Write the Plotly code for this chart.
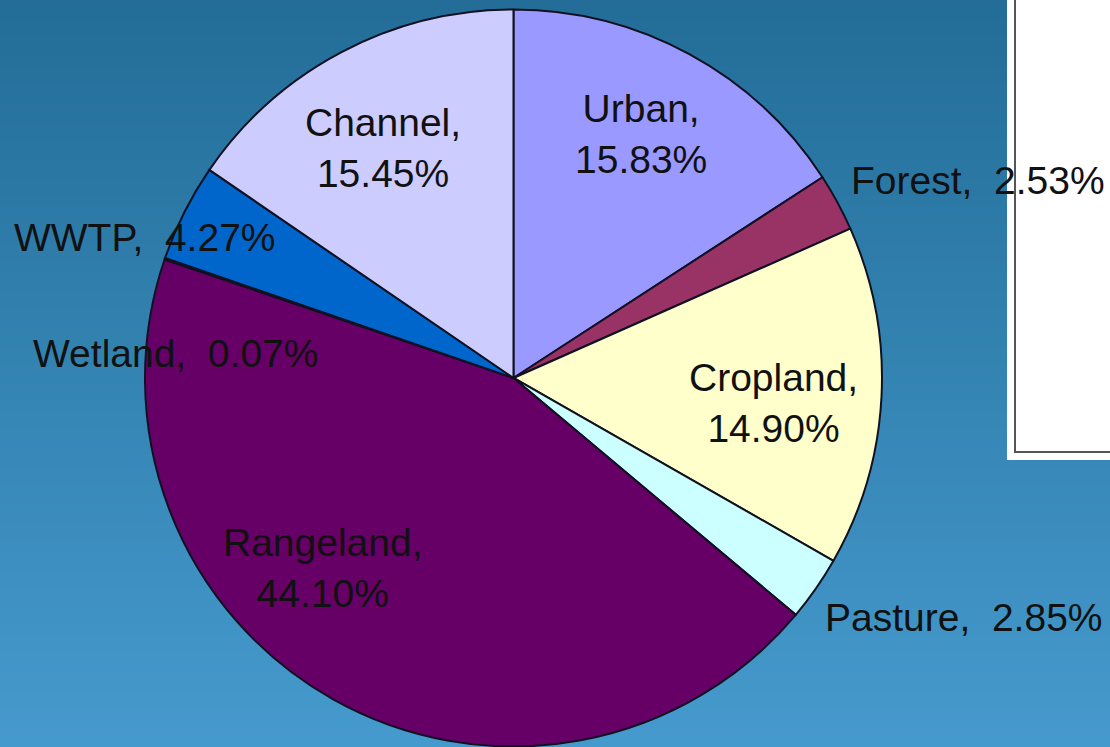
import plotly.graph_objects as go

# land use shares, clockwise from 12 o'clock
categorias = ["Urban", "Forest", "Cropland", "Pasture", "Rangeland", "Wetland", "WWTP", "Channel"]
porcentajes = [15.83, 2.53, 14.90, 2.85, 44.10, 0.07, 4.27, 15.45]
colores = ["#9999FF", "#993366", "#FFFFCC", "#CCFFFF", "#660066", "#FF8080", "#0066CC", "#CCCCFF"]

W, H = 1110, 747

# label placement (pixel centre of text, and whether the label is split in two lines)
pos_etiquetas = {
    "Urban": (641, 134, True),
    "Forest": (978, 180, False),
    "Cropland": (773, 403, True),
    "Pasture": (964, 617, False),
    "Rangeland": (323, 568, True),
    "Wetland": (175, 353, False),
    "WWTP": (145, 238, False),
    "Channel": (383, 148, True),
}

fig = go.Figure()

fig.add_trace(go.Pie(
    labels=categorias,
    values=porcentajes,
    sort=False,
    direction="clockwise",
    rotation=0,
    marker=dict(colors=colores, line=dict(color="#111122", width=2)),
    textinfo="none",
    hoverinfo="label+percent",
    showlegend=False,
    domain=dict(x=[0.1306, 0.7946], y=[0.0007, 0.9873]),
))

# background gradient (top dark to bottom light)
top = (35, 109, 152)
bottom = (69, 154, 205)
n = 80
shapes = []
for i in range(n):
    t = i / (n - 1)
    c = tuple(round(top[k] + (bottom[k] - top[k]) * t) for k in range(3))
    shapes.append(dict(type="rect", xref="paper", yref="paper",
                       x0=0, x1=1, y1=1 - i / n, y0=1 - (i + 1) / n - 0.002,
                       fillcolor="rgb(%d,%d,%d)" % c, line=dict(width=0), layer="below"))

# empty legend box on the right
shapes.append(dict(type="rect", xref="paper", yref="paper",
                   x0=1007 / W, x1=1.0, y0=1 - 460 / H, y1=1.0,
                   fillcolor="white", line=dict(width=0), layer="below"))
shapes.append(dict(type="rect", xref="paper", yref="paper",
                   x0=1015 / W, x1=1.02, y0=1 - 452 / H, y1=1.02,
                   fillcolor="rgba(0,0,0,0)", line=dict(color="#555555", width=2), layer="below"))

anotaciones = []
for cat, val in zip(categorias, porcentajes):
    px_, py_, dos_lineas = pos_etiquetas[cat]
    sep = ",<br>" if dos_lineas else ",  "
    anotaciones.append(dict(
        x=px_ / W, y=1 - py_ / H, xref="paper", yref="paper",
        text="{}{}{:.2f}%".format(cat, sep, val),
        showarrow=False, xanchor="center", yanchor="middle",
        font=dict(family="Liberation Sans, Arial", size=39, color="#111111"),
    ))

fig.update_layout(
    width=W, height=H,
    margin=dict(l=0, r=0, t=0, b=0),
    paper_bgcolor="#3583b5",
    plot_bgcolor="rgba(0,0,0,0)",
    shapes=shapes,
    annotations=anotaciones,
)

fig.write_html("out.html", config={"displayModeBar": False},
               post_script="document.body.style.margin='0';")
